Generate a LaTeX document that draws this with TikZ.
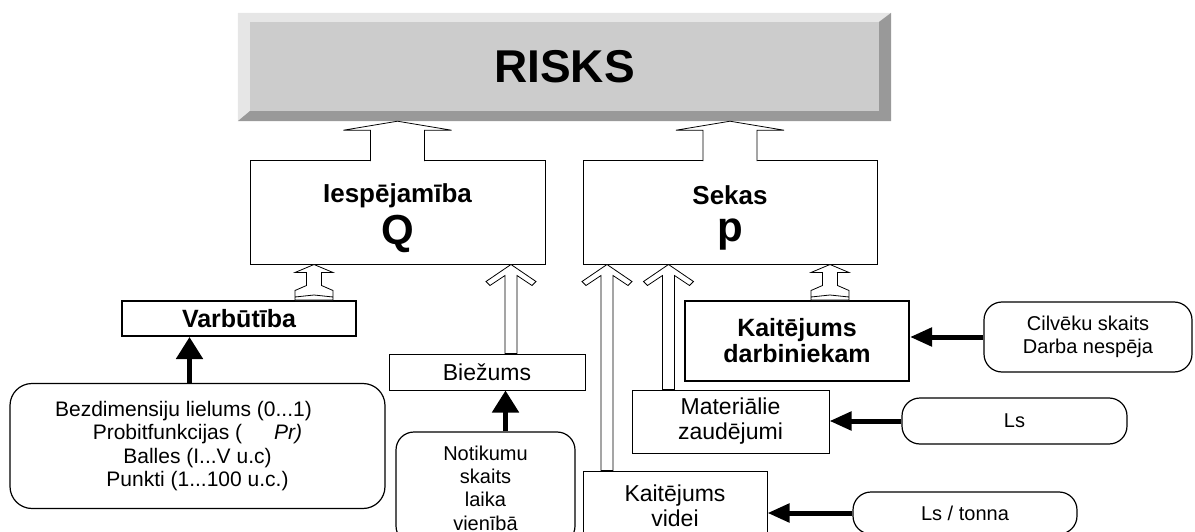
\documentclass[tikz,border=0pt]{standalone}
\usepackage{fontspec}
\setmainfont{Liberation Sans}
\usetikzlibrary{arrows.meta,calc}
\definecolor{riskface}{HTML}{CCCCCC}
\definecolor{risklight}{HTML}{E6E6E6}
\definecolor{riskdark}{HTML}{999999}

% hollow arrows: #1 = base point, #2 = node side the tip touches
\newcommand{\blockarrow}[2]{%
  \path[hollow_style] let \p1=(#1), \p2=(#2) in
    (\x1-27pt,\y1-0.6pt) -- (\x1-27pt,\y2-9pt) -- (\x1-54pt,\y2-9pt) -- (\x1,\y2)
    -- (\x1+54pt,\y2-9pt) -- (\x1+27pt,\y2-9pt) -- (\x1+27pt,\y1-0.6pt);}
\newcommand{\chevarrow}[2]{%
  \filldraw[hollow_style] let \p1=(#1), \p2=(#2) in
    (\x1-6pt,\y1) -- (\x1-6pt,\y2-11pt) -- (\x1-21pt,\y2-21pt) -- (\x1-25pt,\y2-17pt) -- (\x1,\y2)
    -- (\x1+25pt,\y2-17pt) -- (\x1+21pt,\y2-21pt) -- (\x1+6pt,\y2-11pt) -- (\x1+6pt,\y1) -- cycle;}
\newcommand{\tailarrow}[2]{%
  \filldraw[hollow_style] let \p1=(#1), \p2=(#2) in
    (\x1-19pt,\y1) -- (\x1-19pt,\y2-26pt) -- (\x1-7.5pt,\y2-21pt) -- (\x1-7.5pt,\y2-8pt) -- (\x1-19pt,\y2-8pt) -- (\x1,\y2)
    -- (\x1+19pt,\y2-8pt) -- (\x1+7.5pt,\y2-8pt) -- (\x1+7.5pt,\y2-21pt) -- (\x1+19pt,\y2-26pt) -- (\x1+19pt,\y1) -- cycle
    (\x1-19pt,\y1+3pt) -- (\x1,\y1+5pt) -- (\x1+19pt,\y1+3pt);}

\begin{document}
\begin{tikzpicture}[x=1pt,y=-1pt,
	box_style/.style={draw, line width=1pt, fill=white, inner sep=0pt, align=center, font=\fontsize{23}{25}\selectfont},
	boldbox_style/.style={box_style, line width=2pt, font=\fontsize{25}{26}\selectfont\bfseries},
	note_style/.style={draw, line width=1.2pt, rounded corners=18pt, inner sep=0pt, align=center, font=\fontsize{20}{23.3}\selectfont},
	fat_arrow/.style={line width=5pt, -{Triangle[length=22pt,width=26pt]}},
	side_arrow/.style={line width=5pt, -{Triangle[length=22pt,width=18pt]}},
	hollow_style/.style={draw, fill=white, line width=0.8pt}]
	\useasboundingbox (0,0) rectangle (1195,532);
	\clip (0,0) rectangle (1195,532);
	
	% RISKS
	\node[fill=riskface, minimum width=653pt, minimum height=108pt, inner sep=0pt, font=\fontsize{46}{46}\selectfont\bfseries] (risks) at (564.5,67) {RISKS};
	\fill[risklight] (risks.north west) -- (risks.north east) -- ([shift={(-12,9)}]risks.north east)
		-- ([shift={(12,9)}]risks.north west) -- ([shift={(12,-10)}]risks.south west) -- (risks.south west) -- cycle;
	\fill[riskdark] (risks.south west) -- ([shift={(12,-10)}]risks.south west) -- ([shift={(-12,-10)}]risks.south east)
		-- ([shift={(-12,9)}]risks.north east) -- (risks.north east) -- (risks.south east) -- cycle;
	
	\node[box_style, minimum width=295pt, minimum height=103pt, font=\fontsize{26}{30}\selectfont\bfseries] (iesp) at (397.5,212.5) {\rule{0pt}{30pt}Iespējamība\\[7pt]{\fontsize{42}{42}\selectfont Q}};
	\node[box_style, minimum width=294pt, minimum height=103pt, font=\fontsize{26}{30}\selectfont\bfseries] (sekas) at (730,212.5) {\rule{0pt}{29pt}Sekas\\[7pt]{\fontsize{42}{42}\selectfont p}};
	
	\node[boldbox_style, minimum width=234pt, minimum height=35pt] (varb) at (239,318.5) {Varbūtība};
	\node[box_style, minimum width=196pt, minimum height=36pt] (biez) at (487,372) {Biežums};
	\node[boldbox_style, minimum width=224pt, minimum height=80pt] (kd) at (797,341) {Kaitējums\\darbiniekam};
	\node[box_style, minimum width=197pt, minimum height=63pt] (mat) at (730.5,421.5) {Materiālie\\zaudējumi};
	\node[box_style, minimum width=184pt, minimum height=70pt] (videi) at (675,506) {Kaitējums\\videi};
	
	\node[note_style, minimum width=208pt, minimum height=70pt] (cilv) at (1088,337) {Cilvēku skaits\\Darba nespēja};
	\node[note_style, minimum width=225pt, minimum height=46pt] (ls) at (1014.5,421) {Ls};
	\node[note_style, minimum width=224pt, minimum height=42pt] (tonna) at (965,513) {Ls / tonna};
	\node[note_style, rounded corners=22pt, minimum width=375pt, minimum height=125pt, font=\fontsize{21}{23.3}\selectfont] (bezd) at (197.5,446)
		{Bezdimensiju lielums (0...1)\hspace*{28pt}\\Probitfunkcijas (\hspace{32pt}\textit{Pr)}\\Balles (I...V u.c)\\Punkti (1...100 u.c.)};
	\node[note_style, minimum width=179pt, minimum height=112pt] (notik) at (485.5,488) {Notikumu\\skaits\\laika\\vienībā};
	
	% hollow arrows
	\blockarrow{iesp.north}{risks.south}
	\blockarrow{sekas.north}{risks.south}
	\tailarrow{[xshift=-43pt]varb.north east}{iesp.south}
	\tailarrow{[xshift=-80pt]kd.north east}{sekas.south}
	\chevarrow{[xshift=24pt]biez.north}{iesp.south}
	\chevarrow{[xshift=24.5pt]videi.north west}{sekas.south}
	\chevarrow{[xshift=37pt]mat.north west}{sekas.south}
	
	% black arrows
	\draw[fat_arrow] ([xshift=-8pt]bezd.north) -- ([xshift=-8pt]bezd.north |- varb.south);
	\draw[fat_arrow] ([xshift=20pt]notik.north) -- ([xshift=20pt]notik.north |- biez.south);
	\draw[side_arrow] (cilv.west) -- (cilv.west -| kd.east);
	\draw[side_arrow] (ls.west) -- (ls.west -| mat.east);
	\draw[side_arrow] (tonna.west) -- (tonna.west -| videi.east);
\end{tikzpicture}
\end{document}
